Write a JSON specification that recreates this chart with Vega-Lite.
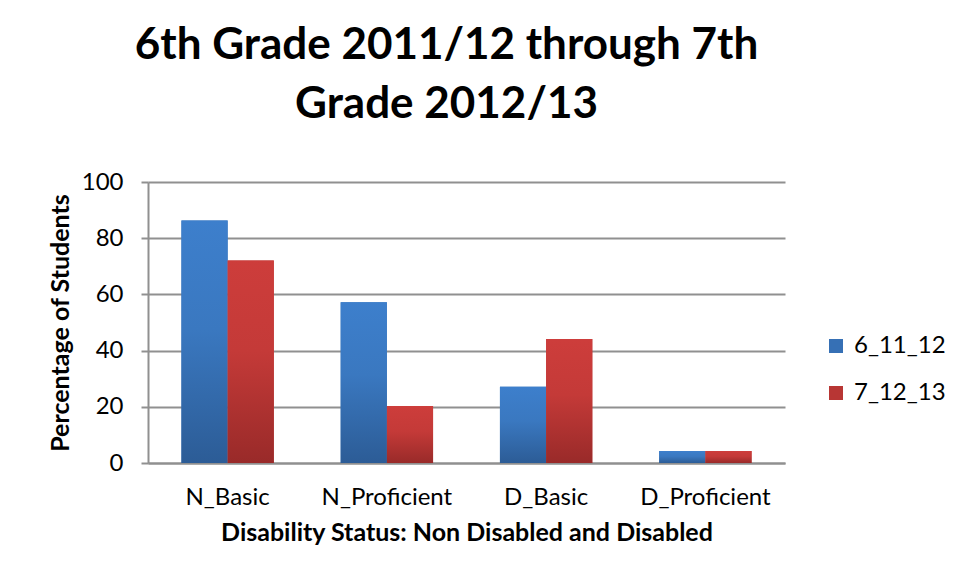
{
  "$schema": "https://vega.github.io/schema/vega-lite/v6.json",
  "autosize": "none",
  "width": 637,
  "height": 281,
  "padding": {"left": 148, "top": 182, "right": 172, "bottom": 117},
  "background": "white",
  "title": {
    "text": ["6th Grade 2011/12 through 7th", "Grade 2012/13"],
    "font": "Lato",
    "fontSize": 44,
    "fontWeight": "bold",
    "lineHeight": 59,
    "color": "black",
    "anchor": "middle",
    "frame": "group",
    "dx": -20,
    "offset": 43
  },
  "data": {
    "values": [
      {"status": "N_Basic", "series": "6_11_12", "pct": 86.3},
      {"status": "N_Basic", "series": "7_12_13", "pct": 72.1},
      {"status": "N_Proficient", "series": "6_11_12", "pct": 57.2},
      {"status": "N_Proficient", "series": "7_12_13", "pct": 20.3},
      {"status": "D_Basic", "series": "6_11_12", "pct": 27.1},
      {"status": "D_Basic", "series": "7_12_13", "pct": 44.1},
      {"status": "D_Proficient", "series": "6_11_12", "pct": 4.3},
      {"status": "D_Proficient", "series": "7_12_13", "pct": 4.3}
    ]
  },
  "encoding": {
    "x": {
      "field": "status",
      "type": "nominal",
      "sort": ["N_Basic", "N_Proficient", "D_Basic", "D_Proficient"],
      "scale": {"paddingInner": 0.42, "paddingOuter": 0.21},
      "axis": {
        "title": "Disability Status: Non Disabled and Disabled",
        "titleFont": "Lato",
        "titleFontSize": 25,
        "titleFontWeight": "bold",
        "titleColor": "black",
        "titlePadding": 11,
        "labelFont": "Lato",
        "labelFontSize": 24,
        "labelColor": "black",
        "labelAngle": 0,
        "labelPadding": 22,
        "ticks": false,
        "domainColor": "#909090",
        "domainWidth": 2
      }
    },
    "xOffset": {"field": "series", "type": "nominal", "sort": ["6_11_12", "7_12_13"]},
    "y": {
      "field": "pct",
      "type": "quantitative",
      "scale": {"domain": [0, 100]},
      "axis": {
        "title": "Percentage of Students",
        "titleFont": "Lato",
        "titleFontSize": 25,
        "titleFontWeight": "bold",
        "titleColor": "black",
        "titlePadding": 8,
        "values": [0, 20, 40, 60, 80, 100],
        "labelFont": "Lato",
        "labelFontSize": 24,
        "labelColor": "black",
        "labelPadding": 18,
        "tickSize": 7,
        "tickColor": "#909090",
        "tickWidth": 2,
        "domainColor": "#909090",
        "domainWidth": 2,
        "grid": true,
        "gridColor": "#909090",
        "gridWidth": 2
      }
    }
  },
  "layer": [
    {
      "mark": {"type": "bar"},
      "encoding": {
        "color": {
          "field": "series",
          "type": "nominal",
          "scale": {"domain": ["6_11_12", "7_12_13"], "range": ["#3670b5", "#b83634"]},
          "legend": {
            "title": null,
            "orient": "none",
            "legendX": 676,
            "legendY": 152,
            "labelFont": "Lato",
            "labelFontSize": 24,
            "labelColor": "black",
            "symbolType": "square",
            "symbolSize": 196,
            "symbolStrokeWidth": 0,
            "symbolOpacity": 1,
            "rowPadding": 23,
            "labelOffset": 6
          }
        }
      }
    },
    {
      "transform": [{"filter": "datum.series === '6_11_12'"}],
      "mark": {
        "type": "bar",
        "color": {"gradient": "linear", "x1": 0, "y1": 0, "x2": 0, "y2": 1,
          "stops": [{"offset": 0, "color": "#3d7fcc"}, {"offset": 0.45, "color": "#3a78c0"}, {"offset": 1, "color": "#2c5c96"}]}
      }
    },
    {
      "transform": [{"filter": "datum.series === '7_12_13'"}],
      "mark": {
        "type": "bar",
        "color": {"gradient": "linear", "x1": 0, "y1": 0, "x2": 0, "y2": 1,
          "stops": [{"offset": 0, "color": "#cd3d3b"}, {"offset": 0.45, "color": "#c43a38"}, {"offset": 1, "color": "#992a29"}]}
      }
    }
  ],
  "config": {
    "view": {"stroke": null}
  }
}
